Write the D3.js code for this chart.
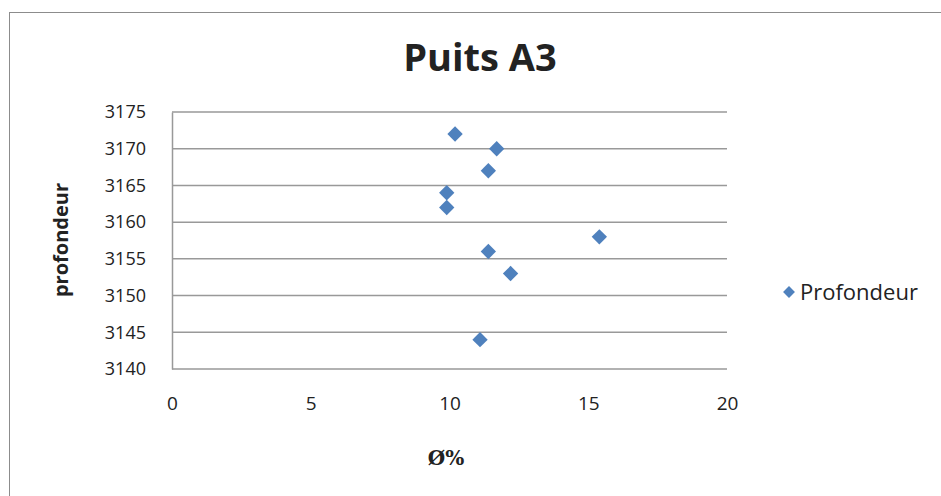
<!DOCTYPE html>
<html>
<head>
<meta charset="utf-8">
<script src="https://cdn.jsdelivr.net/npm/d3@7"></script>
<style>
  body { margin: 0; background: #fff; }
  text { font-family: "Open Sans", sans-serif; fill: #222; }
</style>
</head>
<body>
<div id="chart"></div>
<script>
// porosity (%) vs depth
const porosite = [10.2, 11.7, 11.4, 9.9, 9.9, 15.4, 11.4, 12.2, 11.1]
const profondeur = [3172, 3170, 3167, 3164, 3162, 3158, 3156, 3153, 3144]
const xTicks = [0, 5, 10, 15, 20]
const yTicks = [3140, 3145, 3150, 3155, 3160, 3165, 3170, 3175]
const seriesName = "Profondeur"

let dim = {width: 941, height: 496}
let plot = {left: 172, right: 727, top: 112, bottom: 369}

let svg = d3.select('#chart').append('svg')
    .attr('width', dim.width)
    .attr('height', dim.height)

// outer frame
svg.append('rect')
    .attr('x', 9.5).attr('y', 12.5)
    .attr('width', 940).attr('height', 490)
    .attr('fill', 'none')
    .attr('stroke', '#8c8c8c')

let scaleX = d3.scaleLinear().domain([0, 20]).range([plot.left, plot.right])
let scaleY = d3.scaleLinear().domain([3140, 3175]).range([plot.bottom, plot.top])

// horizontal gridlines
svg.append('g').selectAll('line')
    .data(yTicks)
    .enter().append('line')
    .attr('x1', plot.left).attr('x2', plot.right)
    .attr('y1', d => scaleY(d)).attr('y2', d => scaleY(d))
    .attr('stroke', '#999').attr('stroke-width', 1.5)

let axisY = d3.axisLeft(scaleY).tickValues(yTicks).tickSize(0).tickPadding(26).tickFormat(d3.format('d'))
let gy = svg.append('g').attr('transform', `translate(${plot.left},0)`).call(axisY)
gy.select('.domain').attr('stroke', '#999').attr('stroke-width', 1.5)
gy.selectAll('text').style('font-size', '18px').style('font-family', '"Open Sans", sans-serif').attr('fill', '#222')

let axisX = d3.axisBottom(scaleX).tickValues(xTicks).tickSize(0).tickPadding(28)
let gx = svg.append('g').attr('transform', `translate(0,${plot.bottom})`).call(axisX)
gx.select('.domain').remove()
gx.selectAll('text').style('font-size', '19px').style('font-family', '"Open Sans", sans-serif').attr('fill', '#222')

// title
svg.append('text')
    .attr('x', 480).attr('y', 71)
    .attr('text-anchor', 'middle')
    .style('font-size', '38px').style('font-weight', 'bold')
    .text('Puits A3')

// axis titles
svg.append('text')
    .attr('transform', 'translate(68,240) rotate(-90)')
    .attr('text-anchor', 'middle')
    .style('font-size', '20px').style('font-weight', 'bold')
    .text('profondeur')

svg.append('text')
    .attr('x', 446).attr('y', 465)
    .attr('text-anchor', 'middle')
    .style('font-family', '"DejaVu Serif", serif')
    .style('font-size', '20px').style('font-weight', 'bold')
    .text('Ø%')

let diamond = d3.symbol().type(d3.symbolDiamond2).size(150)

let points = porosite.map((x, i) => ({x: x, y: profondeur[i]}))
svg.append('g').selectAll('path')
    .data(points)
    .enter().append('path')
    .attr('d', diamond)
    .attr('transform', d => `translate(${scaleX(d.x)},${scaleY(d.y)})`)
    .attr('fill', '#4f81bd')

// legend
let leg = svg.append('g').attr('transform', 'translate(789,292)')
leg.append('path').attr('d', d3.symbol().type(d3.symbolDiamond2).size(90)).attr('fill', '#4f81bd')
leg.append('text').attr('x', 11).attr('y', 8)
    .style('font-size', '22px')
    .text(seriesName)
</script>
</body>
</html>
